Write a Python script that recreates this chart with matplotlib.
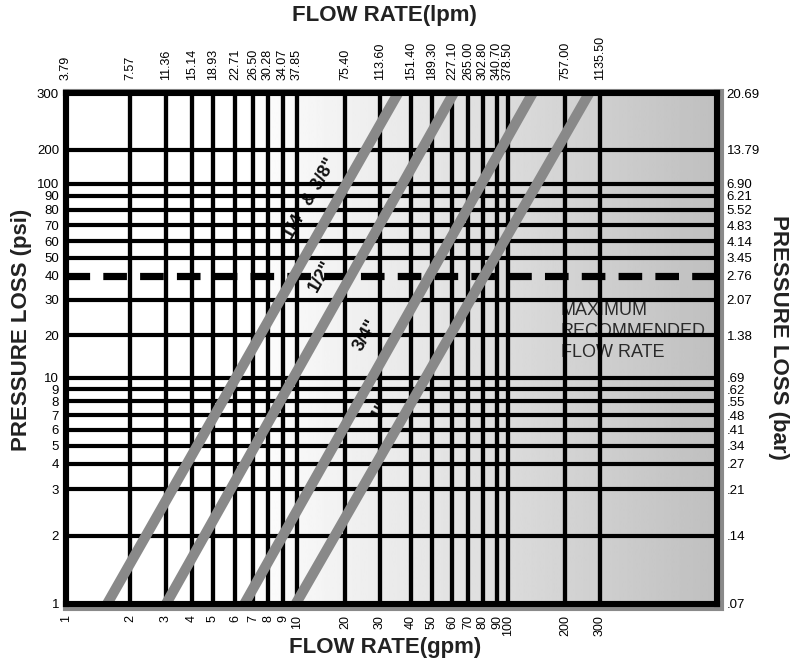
import numpy as np
import matplotlib
matplotlib.use("Agg")
import matplotlib.pyplot as plt
import matplotlib.transforms as mtransforms
from matplotlib.patches import Rectangle
from matplotlib.ticker import FixedLocator, FixedFormatter, NullLocator

# ---------------- data ----------------
GPM_TICKS = [1, 2, 3, 4, 5, 6, 7, 8, 9, 10, 20, 30, 40, 50, 60, 70, 80, 90, 100, 200, 300]
GPM_LABELS = [str(v) for v in GPM_TICKS]
LPM_LABELS = ["3.79", "7.57", "11.36", "15.14", "18.93", "22.71", "26.50", "30.28", "34.07",
              "37.85", "75.40", "113.60", "151.40", "189.30", "227.10", "265.00", "302.80",
              "340.70", "378.50", "757.00", "1135.50"]
PSI_TICKS = [1, 2, 3, 4, 5, 6, 7, 8, 9, 10, 20, 30, 40, 50, 60, 70, 80, 90, 100, 200, 300]
PSI_LABELS = [str(v) for v in PSI_TICKS]
BAR_LABELS = [".07", ".14", ".21", ".27", ".34", ".41", ".48", ".55", ".62", ".69", "1.38",
              "2.07", "2.76", "3.45", "4.14", "4.83", "5.52", "6.21", "6.90", "13.79", "20.69"]
MAX_RECOMMENDED_PSI = 40
PIPE_SIZES = ['1/4" & 3/8"', '1/2"', '3/4"', '1"']
PSI_ENDS = [1, 300]
FLOW_AT_1_PSI = [1.56, 3.0, 6.5, 9.9]
FLOW_AT_300_PSI = [35.5, 61.0, 135.0, 265.0]
LABEL_PSI = [88, 40, 20, 7.3]
MAX_TEXT = "MAXIMUM\nRECOMMENDED\nFLOW RATE"
GPM_MAX = 600

# ---------------- chart's printed (irregular) grid spacing, pixels ----------------
X_SCALE_VALUES = GPM_TICKS + [GPM_MAX]
X_SCALE_POS = [0, 64, 100, 126, 147, 169, 187, 202, 217, 231, 279, 314, 345, 366, 386,
               402, 417, 431, 442, 499, 534, 651]
Y_SCALE_VALUES = PSI_TICKS
Y_SCALE_POS = [0, 68, 115, 140, 158, 174, 189, 203, 215, 226, 269, 304, 328, 346, 363,
               379, 394, 408, 420, 454, 511]


def _pw(x, xp, fp):
    xp = np.asarray(xp, float)
    fp = np.asarray(fp, float)
    x = np.asarray(x, float)
    y = np.interp(x, xp, fp)
    lo_s = (fp[1] - fp[0]) / (xp[1] - xp[0])
    hi_s = (fp[-1] - fp[-2]) / (xp[-1] - xp[-2])
    y = np.where(x < xp[0], fp[0] + (x - xp[0]) * lo_s, y)
    y = np.where(x > xp[-1], fp[-1] + (x - xp[-1]) * hi_s, y)
    return y


def make_funcs(vals, pos):
    lv = np.log10(np.asarray(vals, float))

    def fwd(v):
        v = np.asarray(v, float)
        lvv = np.log10(np.where(v > 0, v, 1e-12))
        return _pw(lvv, lv, pos)

    def inv(p):
        return 10 ** _pw(p, pos, lv)
    return fwd, inv


xf = make_funcs(X_SCALE_VALUES, X_SCALE_POS)
yf = make_funcs(Y_SCALE_VALUES, Y_SCALE_POS)

# ---------------- figure ----------------
W, H, DPI = 796, 661, 100
fig = plt.figure(figsize=(W / DPI, H / DPI), dpi=DPI)
fig.patch.set_facecolor("white")
plt.rcParams["lines.scale_dashes"] = False
FONT = ["Liberation Sans", "DejaVu Sans"]

AX_L, AX_R, AX_T, AX_B = 66, 717, 93, 604
pos = [AX_L / W, 1 - AX_B / H, (AX_R - AX_L) / W, (AX_B - AX_T) / H]


def fx(px):
    return px / W


def fy(py):
    return 1 - py / H


# shadow frame
shadow = Rectangle((fx(AX_L), fy(AX_B + 3.5)), fx(AX_R + 3.5) - fx(AX_L), fy(AX_T - 1.5) - fy(AX_B + 3.5),
                   transform=fig.transFigure, fill=False, edgecolor="#8a8a8a", linewidth=4.4, zorder=0)
fig.patches.append(shadow)

# gradient background
bg = fig.add_axes(pos, zorder=0)
n = 400
xs = np.linspace(0, 1, n)
g = np.where(xs < 0.27, 1.0, 1.0 - (xs - 0.27) / 0.73 * 0.25)
bg.imshow(g[None, :], cmap="gray", vmin=0, vmax=1, aspect="auto", extent=(0, 1, 0, 1))
bg.axis("off")

ax = fig.add_axes(pos, zorder=1)
ax.patch.set_alpha(0)
ax.set_xscale("function", functions=xf)
ax.set_yscale("function", functions=yf)
ax.set_xlim(GPM_TICKS[0], GPM_MAX)
ax.set_ylim(PSI_ENDS[0], PSI_ENDS[1])

for s in ax.spines.values():
    s.set_linewidth(4.4)
    s.set_color("black")
    s.set_zorder(5)

# grid lines
for v in GPM_TICKS[1:]:
    ax.axvline(v, color="black", lw=3.1, zorder=2)
for v in PSI_TICKS[1:-1]:
    if v == MAX_RECOMMENDED_PSI:
        continue
    ax.axhline(v, color="black", lw=3.0, zorder=2)
dl = ax.axhline(MAX_RECOMMENDED_PSI, color="black", lw=5.2, zorder=2)
dl.set_dashes([17, 9.5])
dl.set_dash_capstyle("butt")

# flow lines
for f1, f300 in zip(FLOW_AT_1_PSI, FLOW_AT_300_PSI):
    ax.plot([f1, f300], PSI_ENDS, color="#898989", lw=7.4, solid_capstyle="butt", zorder=3)

# ticks - bottom (gpm) and left (psi)
ax.xaxis.set_major_locator(FixedLocator(GPM_TICKS))
ax.xaxis.set_major_formatter(FixedFormatter(GPM_LABELS))
ax.xaxis.set_minor_locator(NullLocator())
ax.yaxis.set_major_locator(FixedLocator(PSI_TICKS))
ax.yaxis.set_major_formatter(FixedFormatter(PSI_LABELS))
ax.yaxis.set_minor_locator(NullLocator())
ax.tick_params(axis="x", length=0, pad=8, labelsize=9, labelrotation=90)
ax.tick_params(axis="y", length=0, pad=5, labelsize=9.5)
for t in ax.get_xticklabels() + ax.get_yticklabels():
    t.set_fontfamily(FONT)

# top (lpm)
axt = ax.twiny()
axt.set_xscale("function", functions=xf)
axt.set_xlim(ax.get_xlim())
axt.xaxis.set_major_locator(FixedLocator(GPM_TICKS))
axt.xaxis.set_major_formatter(FixedFormatter(LPM_LABELS))
axt.xaxis.set_minor_locator(NullLocator())
axt.tick_params(axis="x", length=0, pad=9, labelsize=9, labelrotation=90)
for s in axt.spines.values():
    s.set_visible(False)
for t in axt.get_xticklabels():
    t.set_fontfamily(FONT)

# right (bar)
axr = ax.twinx()
axr.set_yscale("function", functions=yf)
axr.set_ylim(ax.get_ylim())
axr.yaxis.set_major_locator(FixedLocator(PSI_TICKS))
axr.yaxis.set_major_formatter(FixedFormatter(BAR_LABELS))
axr.yaxis.set_minor_locator(NullLocator())
axr.tick_params(axis="y", length=0, pad=7, labelsize=9.5)
for s in axr.spines.values():
    s.set_visible(False)
for t in axr.get_yticklabels():
    t.set_fontfamily(FONT)

# pipe size labels along lines (left side of each band)
fig.canvas.draw()
LABEL_GAP = [28, 30, 30, 26]
for lbl, f1, f300, lp, gap in zip(PIPE_SIZES, FLOW_AT_1_PSI, FLOW_AT_300_PSI, LABEL_PSI, LABEL_GAP):
    p0 = ax.transData.transform((f1, PSI_ENDS[0]))
    p1 = ax.transData.transform((f300, PSI_ENDS[1]))
    yl = ax.transData.transform((1, lp))[1]
    t = (yl - p0[1]) / (p1[1] - p0[1])
    px = p0[0] + t * (p1[0] - p0[0])
    ang = np.degrees(np.arctan2(p1[1] - p0[1], p1[0] - p0[0]))
    ax.text(px - gap, yl, lbl, transform=mtransforms.IdentityTransform(),
            rotation=ang, rotation_mode="anchor", ha="center", va="center",
            fontsize=13, fontweight="bold", family=FONT, color="#111111", zorder=1.5)

# maximum recommended text
ax.text(fx(561), fy(302), MAX_TEXT, transform=fig.transFigure, ha="left", va="top",
        fontsize=13, family=["Liberation Sans Narrow", "Liberation Sans"], color="#2a2a2a",
        linespacing=1.3, zorder=1.5)

# axis titles
TITLE_KW = dict(ha="center", va="center", fontsize=16, fontweight="bold", family=FONT,
                color="#222222")
fig.text(fx(384), fy(16), "FLOW RATE(lpm)", **TITLE_KW)
fig.text(fx(385), fy(648), "FLOW RATE(gpm)", **TITLE_KW)
fig.text(fx(22), fy(330), "PRESSURE LOSS (psi)", rotation=90, **TITLE_KW)
fig.text(fx(778), fy(337), "PRESSURE LOSS (bar)", rotation=-90, **TITLE_KW)

fig.savefig("out.png", dpi=DPI)
